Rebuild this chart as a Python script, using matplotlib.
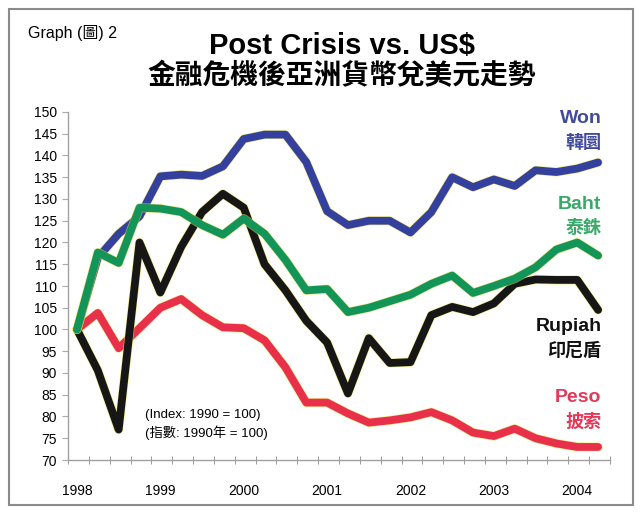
import numpy as np
import matplotlib
matplotlib.use('Agg')
import matplotlib.pyplot as plt
import matplotlib.patheffects as pe
from matplotlib.patches import Rectangle

plt.rcParams['font.family'] = ['Liberation Sans', 'Noto Sans CJK TC', 'DejaVu Sans']

# quarterly index values, Q1 1998 .. Q2 2004 (1990 = 100)
quarters = 1998 + np.arange(26) / 4.0
won = [100, 116.5, 122, 126, 135.2, 135.6, 135.3, 137.5, 143.8, 144.8, 144.8, 138.5, 127.2,
       124, 125, 125, 122.3, 127, 135, 132.7, 134.5, 133, 136.6, 136.2, 137, 138.4]
baht = [100, 117.7, 115.3, 128, 127.8, 127, 124, 121.8, 125.5, 122, 116, 109, 109.3,
        104, 105, 106.5, 108, 110.5, 112.4, 108.4, 110, 111.7, 114.3, 118.4, 120, 117]
rupiah = [100, 90.6, 77, 120, 108.5, 119, 127, 131.2, 128, 115, 109, 102, 97,
          85.3, 98, 92.3, 92.5, 103.3, 105.2, 104, 106, 110.5, 111.5, 111.4, 111.4, 104.5]
peso = [100, 103.8, 95.7, 100.3, 105, 107, 103.3, 100.5, 100.3, 97.5, 91.3, 83.2, 83.2,
        80.7, 78.6, 79.1, 79.8, 81, 79.1, 76.3, 75.5, 77.2, 75, 73.8, 73, 73]

years = [1998, 1999, 2000, 2001, 2002, 2003, 2004]
yticks = list(range(70, 151, 5))

names_en = ['Peso', 'Rupiah', 'Won', 'Baht']
names_zh = ['披索', '印尼盾', '韓圜', '泰銖']
series = [peso, rupiah, won, baht]
line_colors = ['#e8304a', '#161616', '#34409e', '#13955a']
text_colors = ['#e23a58', '#111111', '#424a9c', '#3aa868']
label_y = [84.4, 100.6, 148.4, 128.8]

fig = plt.figure(figsize=(6.41, 5.14), dpi=100)
ax = fig.add_axes([68 / 641, 1 - 460 / 514, (610 - 68) / 641, (460 - 112) / 514])

halo = [pe.Stroke(linewidth=6.6, foreground='#efe24c', alpha=0.6), pe.Normal()]
for vals, c in zip(series, line_colors):
    ax.plot(quarters, vals, color=c, lw=5.6, solid_joinstyle='round',
            solid_capstyle='round', path_effects=halo, clip_on=False)

x0 = 1998 - 0.43 / 4
x1 = 1998 + 25.5 / 4
ax.set_xlim(x0, x1)
ax.set_ylim(70, 150)

ax.set_yticks(yticks)
ax.set_yticklabels([str(v) for v in yticks], fontsize=10)
ax.set_xticks(years)
ax.set_xticklabels([str(y) for y in years], fontsize=10)
ax.set_xticks(x0 + np.arange(27) * 0.25, minor=True)
ax.tick_params(axis='x', which='major', length=0, pad=17)
ax.tick_params(axis='x', which='minor', length=6, direction='inout', color='#888888')
ax.tick_params(axis='y', length=4, color='#aaaaaa', pad=4)

for s in ['top', 'right']:
    ax.spines[s].set_visible(False)
for s in ['left', 'bottom']:
    ax.spines[s].set_color('#a0a0a0')
    ax.spines[s].set_linewidth(1.0)

# series names on the right
for en, zh, c, y in zip(names_en, names_zh, text_colors, label_y):
    ax.text(2004.29, y, en, color=c, fontsize=14, fontweight='bold', ha='right', va='center')
    ax.text(2004.29, y - 5.4, zh, color=c, fontsize=13, fontweight='heavy', ha='right', va='center',
            family=['Noto Sans CJK TC', 'DejaVu Sans'])

ax.text(1998.81, 80.4, '(Index: 1990 = 100)', fontsize=9.5, va='center')
ax.text(1998.81, 76.2, '(指數: 1990年 = 100)', fontsize=9.5, va='center')

# titles
fig.text(28 / 641, 1 - 33 / 514, 'Graph (圖) 2', fontsize=11.5, va='center', ha='left')
fig.text(342 / 641, 1 - 46 / 514, 'Post Crisis vs. US$', fontsize=21, fontweight='bold',
         ha='center', va='center')
fig.text(342 / 641, 1 - 76 / 514, '金融危機後亞洲貨幣兌美元走勢', fontsize=20, fontweight='heavy',
         ha='center', va='center', family=['Noto Sans CJK TC', 'DejaVu Sans'])

# outer frame
fig.patches.append(Rectangle((9 / 641, 1 - 505 / 514), (633 - 9) / 641, (505 - 9) / 514,
                             transform=fig.transFigure, fill=False, ec='#8a8a8a', lw=1.5))

fig.savefig('out.png', dpi=100)
